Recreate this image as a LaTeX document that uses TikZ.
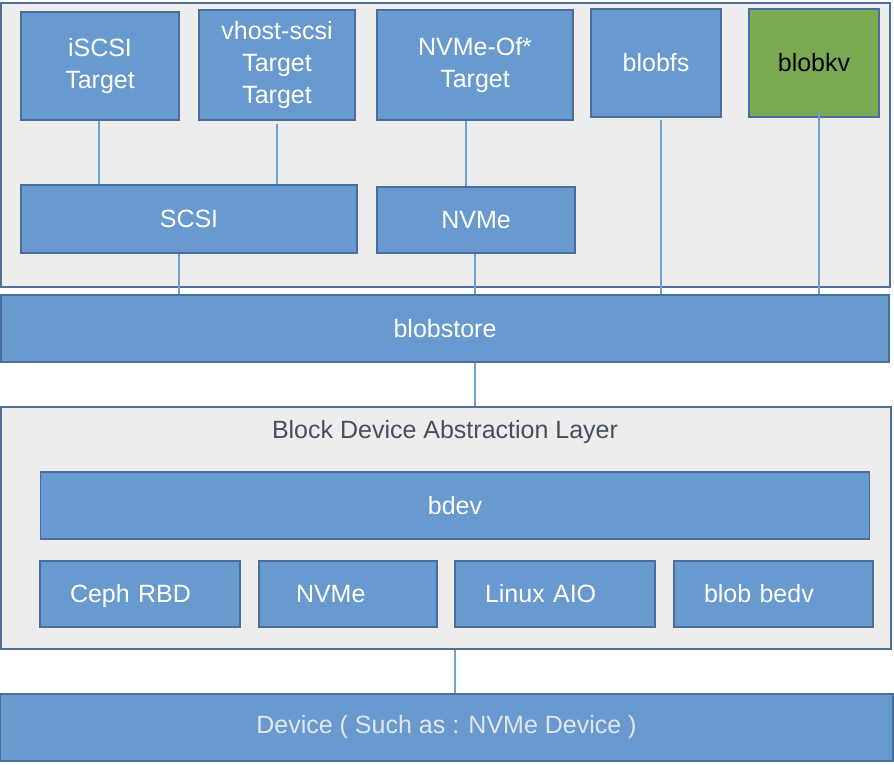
\documentclass[tikz,border=0pt]{standalone}
\usepackage{fontspec}
\setmainfont{Liberation Sans}
\usepackage{tikz}
\usetikzlibrary{shapes.geometric, arrows}
\definecolor{blkfill}{HTML}{689ACF}
\definecolor{blkline}{HTML}{4A6E9B}
\definecolor{layerfill}{HTML}{EDEDED}
\definecolor{layerline}{HTML}{50709A}
\definecolor{linkcol}{HTML}{6E9FD6}
\definecolor{kvfill}{HTML}{7CA954}
\definecolor{devtext}{HTML}{E2E7EE}
\definecolor{captext}{HTML}{434F63}

\begin{document}
\begin{tikzpicture}[x=1pt,y=-1pt,font=\fontsize{25}{32}\selectfont]
        \tikzstyle{layer} = [rectangle, draw=layerline, fill=layerfill, line width=1.8pt, inner sep=0pt]
        \tikzstyle{blk} = [rectangle, draw=blkline, fill=blkfill, line width=1.6pt, text=white, align=center, inner sep=0pt]
        \tikzstyle{drv} = [blk, align=left, inner xsep=30pt, text height=20pt, text depth=3pt]
        \tikzstyle{link} = [draw=linkcol, line width=1.4pt]
        \useasboundingbox (0,0) rectangle (894,764);
		\node [layer, minimum width=889pt, minimum height=284pt] (0) at (445.5, 145) {};
		\node [blk, minimum width=158pt, minimum height=108pt] (1) at (100, 66) {iSCSI\\Target};
		\node [blk, minimum width=156pt, minimum height=110pt] (2) at (277, 65) {vhost-scsi\\Target\\Target};
		\node [blk, minimum width=196pt, minimum height=110pt] (3) at (475, 65) {NVMe-Of*\\Target};
		\node [blk, minimum width=130pt, minimum height=108pt] (4) at (656, 63) {blobfs};
		\node [blk, fill=kvfill, text=black, minimum width=130pt, minimum height=108pt] (5) at (814, 63) {blobkv};
		\node [blk, minimum width=336pt, minimum height=68pt] (6) at (189, 219) {SCSI};
		\node [blk, minimum width=198pt, minimum height=66pt] (7) at (476, 220) {NVMe};
		\node [blk, minimum width=888pt, minimum height=67pt] (8) at (445, 328.5) {blobstore};
		\node [layer, minimum width=890pt, minimum height=242pt] (9) at (446, 528) {};
		\node [text=captext] (10) at (445, 432) {Block Device Abstraction Layer};
		\node [blk, minimum width=829pt, minimum height=67pt] (11) at (455, 505.5) {bdev};
		\node [drv, text width=140pt, minimum height=66pt] (12) at (140, 594) {Ceph RBD};
		\node [drv, text width=104pt, inner xsep=37pt, minimum height=66pt] (13) at (348, 594) {NVMe};
		\node [drv, text width=140pt, minimum height=66pt] (14) at (555, 594) {Linux AIO};
		\node [drv, text width=139pt, inner xsep=30pt, minimum height=66pt] (15) at (773.5, 594) {blob bedv};
		\node [blk, text=devtext, minimum width=893pt, minimum height=67pt] (16) at (446.5, 727.5) {Device ( Such as : NVMe Device )};
		\draw[link] ([xshift=-1pt]1.south) to ([xshift=-1pt]1.south |- 6.north);
		\draw[link] ([yshift=-3pt]2.south) to (2.south |- 6.north);
		\draw[link] ([xshift=-9pt]3.south) to ([xshift=-9pt]3.south |- 7.north);
		\draw[link] ([xshift=-10pt]6.south) to ([xshift=-10pt]6.south |- 8.north);
		\draw[link] ([xshift=-1pt]7.south) to ([xshift=-1pt]7.south |- 8.north);
		\draw[link] ([xshift=5pt,yshift=-2pt]4.south) to ([xshift=5pt]4.south |- 8.north);
		\draw[link] ([xshift=5pt,yshift=6pt]5.south) to ([xshift=5pt]5.south |- 8.north);
		\draw[link] ([xshift=30pt]8.south) to ([xshift=30pt]8.south |- 9.north);
		\draw[link] ([xshift=9pt]9.south) to ([xshift=9pt]9.south |- 16.north);
\end{tikzpicture}
\end{document}
